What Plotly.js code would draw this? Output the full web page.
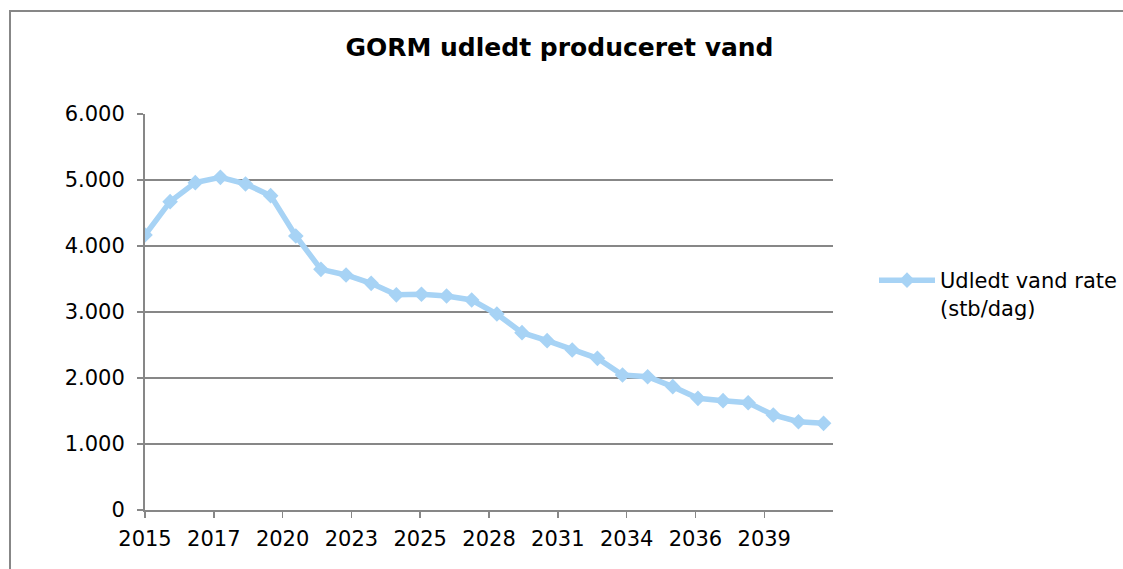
<!DOCTYPE html>
<html>
<head>
<meta charset="utf-8">
<script src="https://cdn.plot.ly/plotly-3.0.1.min.js"></script>
<style>
  html, body { margin: 0; padding: 0; background: #fff; }
  #wrap { position: relative; width: 1123px; height: 569px; overflow: hidden; }
  #chart { width: 1123px; height: 569px; }
  #frame { position: absolute; left: 9px; top: 10px; width: 1200px; height: 700px;
           border-left: 2px solid #878787; border-top: 2px solid #878787; pointer-events: none; }
</style>
</head>
<body>
<div id="wrap">
  <div id="chart"></div>
  <div id="frame"></div>
</div>
<script>
// Data
const years = [2015, 2016, 2017, 2018, 2019, 2020, 2021, 2022, 2023, 2024,
               2025, 2026, 2027, 2028, 2029, 2030, 2031, 2032, 2033, 2034,
               2035, 2036, 2037, 2038, 2039, 2040, 2041, 2042];
const waterRate = [4167, 4672, 4960, 5040, 4940, 4763, 4152, 3646, 3561, 3434,
                   3260, 3270, 3242, 3182, 2970, 2687, 2566, 2424, 2298, 2045,
                   2020, 1869, 1692, 1657, 1626, 1439, 1338, 1313];
const seriesName = 'Udledt vand rate<br>(stb/dag)';
const chartTitle = 'GORM udledt produceret vand';

const dates = years.map(y => y + '-01-01');
const font = 'DejaVu Sans, Verdana, sans-serif';
const fs = 21;

const trace = {
  type: 'scatter',
  mode: 'lines+markers',
  x: dates,
  y: waterRate,
  name: seriesName,
  line: { color: '#A7D3F5', width: 5.5 },
  marker: { symbol: 'diamond', size: 12, color: '#A7D3F5' },
  showlegend: true
};

const layout = {
  width: 1123,
  height: 569,
  margin: { l: 145, r: 290, t: 114, b: 59 },
  paper_bgcolor: '#ffffff',
  plot_bgcolor: '#ffffff',
  separators: ',.',
  font: { family: font, size: fs, color: '#000' },
  title: {
    text: '<b>' + chartTitle + '</b>',
    font: { family: font, size: 25, color: '#000' },
    x: 559.5 / 1123, xref: 'container', xanchor: 'center',
    y: 1 - 47 / 569, yref: 'container', yanchor: 'middle'
  },
  xaxis: {
    type: 'date',
    range: ['2015-01-01', '2042-05-18'],
    tick0: '2015-01-01',
    dtick: 1000 * 86400000,
    tickformat: '%Y',
    showgrid: false,
    zeroline: false,
    showline: true,
    linecolor: '#878787',
    linewidth: 2,
    ticks: 'outside',
    ticklen: 6,
    tickwidth: 1.5,
    tickcolor: '#878787',
    ticklabelstandoff: 3,
    automargin: false,
    tickfont: { family: font, size: fs, color: '#000' }
  },
  yaxis: {
    range: [0, 6000],
    dtick: 1000,
    tickformat: ',d',
    showgrid: true,
    gridcolor: '#878787',
    gridwidth: 1.5,
    zeroline: false,
    showline: true,
    linecolor: '#878787',
    linewidth: 2,
    ticks: 'outside',
    ticklen: 6,
    tickwidth: 1.5,
    tickcolor: '#878787',
    ticklabelstandoff: 8,
    automargin: false,
    tickfont: { family: font, size: fs, color: '#000' }
  },
  legend: {
    xref: 'container',
    yref: 'container',
    x: 874 / 1123,
    xanchor: 'left',
    y: 1 - 260 / 569,
    yanchor: 'top',
    valign: 'top',
    itemwidth: 56,
    font: { family: font, size: fs, color: '#000' },
    bgcolor: 'rgba(0,0,0,0)'
  }
};

Plotly.newPlot('chart', [trace], layout, { staticPlot: true, displayModeBar: false });
</script>
</body>
</html>
